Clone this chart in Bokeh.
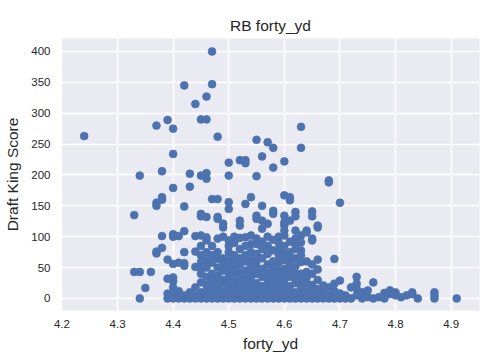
from bokeh.plotting import figure
from bokeh.models import FixedTicker, Range1d, BasicTickFormatter, ColumnDataSource
from bokeh.embed import file_html
from bokeh.resources import INLINE

# forty-yard times (x) and the Draft King scores observed at each time
times = [4.24, 4.33, 4.34, 4.35, 4.36, 4.37, 4.38, 4.39, 4.40, 4.41, 4.42, 4.43, 4.44,
         4.45, 4.46, 4.47, 4.48, 4.49, 4.50, 4.51, 4.52, 4.53, 4.54, 4.55, 4.56, 4.57,
         4.58, 4.59, 4.60, 4.61, 4.62, 4.63, 4.64, 4.65, 4.66, 4.67, 4.68, 4.69, 4.70,
         4.71, 4.72, 4.73, 4.74, 4.75, 4.76, 4.77, 4.78, 4.79, 4.80, 4.81, 4.82, 4.83,
         4.84, 4.87, 4.91]
scores_by_time = [
    [263],
    [135, 43],
    [199, 43, 0],
    [17],
    [43],
    [280, 155, 150, 76, 73],
    [206, 164, 160, 101, 82],
    [289, 63, 32, 8, 0],
    [275, 234, 179, 104, 100, 56, 34, 28, 18, 10, 4, 0],
    [101, 58, 12, 3, 0],
    [345, 149, 109, 75, 57, 53, 5, 0],
    [202, 181, 10, 2, 0],
    [315, 101, 76, 51, 18, 5, 0],
    [290, 199, 137, 133, 102, 85, 70, 59, 48, 40, 26, 10, 0],
    [327, 290, 203, 194, 132, 99, 94, 75, 62, 50, 35, 22, 12, 3, 0],
    [400, 347, 161, 85, 70, 58, 40, 30, 20, 12, 6, 0],
    [262, 161, 132, 129, 97, 75, 64, 50, 37, 34, 22, 15, 8, 0],
    [121, 115, 100, 65, 55, 45, 30, 25, 12, 4, 0],
    [220, 199, 156, 145, 94, 85, 75, 62, 55, 45, 35, 25, 18, 10, 2, 0],
    [100, 90, 70, 62, 50, 40, 28, 20, 12, 5, 0],
    [224, 126, 118, 98, 80, 65, 55, 42, 30, 18, 8, 0],
    [224, 219, 153, 99, 85, 70, 60, 45, 33, 22, 12, 5, 0],
    [164, 102, 88, 75, 62, 52, 45, 35, 25, 15, 8, 3, 0],
    [257, 198, 134, 129, 97, 88, 72, 60, 50, 40, 25, 15, 10, 0],
    [230, 150, 126, 113, 92, 80, 65, 48, 35, 20, 12, 6, 0],
    [253, 121, 100, 85, 72, 55, 42, 30, 20, 12, 5, 0],
    [244, 212, 142, 137, 95, 78, 60, 50, 38, 28, 18, 10, 5, 0],
    [100, 90, 80, 70, 58, 45, 35, 25, 15, 8, 0],
    [222, 167, 134, 123, 118, 110, 102, 85, 72, 62, 48, 40, 30, 22, 14, 3, 0],
    [164, 159, 126, 92, 75, 65, 55, 45, 35, 20, 12, 6, 0],
    [140, 133, 110, 97, 88, 80, 65, 52, 40, 32, 25, 10, 4, 0],
    [278, 244, 102, 91, 78, 70, 59, 40, 29, 18, 10, 5, 0],
    [110, 107, 60, 43, 34, 25, 12, 5, 0],
    [141, 133, 97, 94, 55, 40, 22, 14, 8, 0],
    [118, 115, 63, 47, 30, 15, 8, 3, 0],
    [21, 10, 0],
    [191, 188, 18, 5, 0],
    [64, 24, 12, 0],
    [155, 29, 8, 0],
    [5, 0],
    [18, 0],
    [35, 24, 16, 5],
    [10, 0],
    [13, 2],
    [26, 0],
    [2],
    [9, 0],
    [13, 7],
    [10, 5],
    [2],
    [5],
    [10, 7],
    [0],
    [10, 5, 0],
    [0],
]
x_ticks = [4.2, 4.3, 4.4, 4.5, 4.6, 4.7, 4.8, 4.9]
y_ticks = [0, 50, 100, 150, 200, 250, 300, 350, 400]

forty_yd = []
dk_score = []
for t, ys in zip(times, scores_by_time):
    for s in ys:
        forty_yd.append(t)
        dk_score.append(s)
source = ColumnDataSource(dict(forty_yd=forty_yd, dk_score=dk_score))

FONT = "Liberation Sans"
TXT = "#262626"

p = figure(width=500, height=361,
           x_range=Range1d(4.1992, 4.951), y_range=Range1d(-19.5, 421),
           output_backend="svg", toolbar_location=None, title="RB forty_yd",
           min_border_left=61, min_border_right=21, min_border_top=38, min_border_bottom=51)

p.background_fill_color = "#EAEAF2"
p.border_fill_color = "white"
p.outline_line_color = None

p.scatter("forty_yd", "dk_score", source=source, size=7.8, fill_color="#4C72B0",
          line_color="#4C72B0", line_width=0.8)

p.title.align = "center"
p.title.text_font = FONT
p.title.text_font_size = "15.5px"
p.title.text_font_style = "normal"
p.title.text_color = TXT

p.xaxis.ticker = FixedTicker(ticks=x_ticks)
p.yaxis.ticker = FixedTicker(ticks=y_ticks)
p.xaxis.formatter = BasicTickFormatter(precision=1)
p.xaxis.axis_label = "forty_yd"
p.yaxis.axis_label = "Draft King Score"

for ax in (p.xaxis, p.yaxis):
    ax.axis_line_color = None
    ax.major_tick_line_color = None
    ax.minor_tick_line_color = None
    ax.major_tick_out = 0
    ax.major_tick_in = 0
    ax.major_label_text_font = FONT
    ax.major_label_text_font_size = "11.5px"
    ax.major_label_text_color = TXT
    ax.axis_label_text_font = FONT
    ax.axis_label_text_font_size = "15.5px"
    ax.axis_label_text_font_style = "normal"
    ax.axis_label_text_color = TXT

p.xaxis.major_label_standoff = 9
p.yaxis.major_label_standoff = 11
p.xaxis.axis_label_standoff = 4
p.yaxis.axis_label_standoff = 7

p.grid.grid_line_color = "white"
p.grid.grid_line_width = 1.5
p.xgrid.ticker = FixedTicker(ticks=x_ticks)
p.ygrid.ticker = FixedTicker(ticks=y_ticks)

open("out.html", "w").write(file_html(p, INLINE))
